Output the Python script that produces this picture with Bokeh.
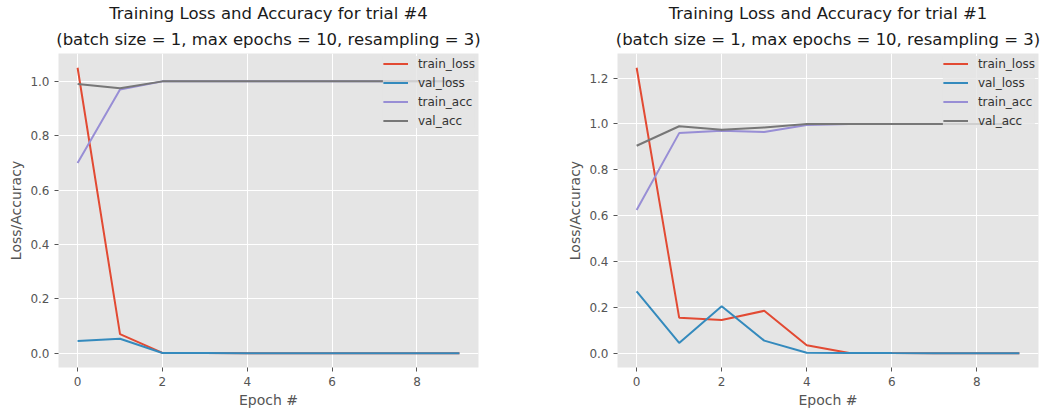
from bokeh.plotting import figure
from bokeh.layouts import row
from bokeh.models import FixedTicker, PrintfTickFormatter, Title, Range1d, Legend, LegendItem
from bokeh.embed import file_html
from bokeh.resources import INLINE

epochs = list(range(10))

# Trial #4
t4_train_loss = [1.05, 0.07, 0.001, 0.0005, 0.0003, 0.0002, 0.0002, 0.0001, 0.0001, 0.0001]
t4_val_loss = [0.045, 0.053, 0.001, 0.0005, 0.0003, 0.0002, 0.0002, 0.0001, 0.0001, 0.0001]
t4_train_acc = [0.70, 0.97, 1.0, 1.0, 1.0, 1.0, 1.0, 1.0, 1.0, 1.0]
t4_val_acc = [0.99, 0.975, 1.0, 1.0, 1.0, 1.0, 1.0, 1.0, 1.0, 1.0]

# Trial #1
t1_train_loss = [1.245, 0.155, 0.145, 0.185, 0.035, 0.001, 0.0005, 0.0003, 0.0002, 0.0001]
t1_val_loss = [0.27, 0.045, 0.205, 0.055, 0.002, 0.001, 0.0005, 0.0003, 0.0002, 0.0001]
t1_train_acc = [0.625, 0.96, 0.97, 0.965, 0.995, 1.0, 1.0, 1.0, 1.0, 1.0]
t1_val_acc = [0.905, 0.99, 0.975, 0.985, 1.0, 1.0, 1.0, 1.0, 1.0, 1.0]

series_names = ["train_loss", "val_loss", "train_acc", "val_acc"]
colors = ["#E24A33", "#348ABD", "#988ED5", "#777777"]

x_ticks = [0, 2, 4, 6, 8]
t4_y_ticks = [0.0, 0.2, 0.4, 0.6, 0.8, 1.0]
t1_y_ticks = [0.0, 0.2, 0.4, 0.6, 0.8, 1.0, 1.2]

title_line2 = "(batch size = 1, max epochs = 10, resampling = 3)"


def make_plot(trial, series, yticks, ymax, border_left, border_right):
    p = figure(width=530, height=411, output_backend="svg", toolbar_location=None,
               min_border_left=border_left, min_border_right=border_right,
               min_border_top=53, min_border_bottom=44,
               x_range=Range1d(-0.45, 9.45),
               y_range=Range1d(-0.05 * ymax, 1.05 * ymax))
    p.title = None
    p.add_layout(Title(text=title_line2, align="center", text_font="DejaVu Sans",
                       text_font_size="16.5px", text_font_style="normal",
                       text_color="#1a1a1a", standoff=10, text_line_height=0.8), "above")
    p.add_layout(Title(text="Training Loss and Accuracy for trial #%d" % trial, align="center",
                       text_font="DejaVu Sans", text_font_size="16.5px",
                       text_font_style="normal", text_color="#1a1a1a", standoff=0,
                       text_line_height=0.8), "above")
    p.background_fill_color = "#E5E5E5"
    p.border_fill_color = "white"
    p.outline_line_color = None

    for ax in (p.xaxis, p.yaxis):
        ax.axis_line_color = None
        ax.major_tick_line_color = "#555555"
        ax.major_tick_out = 4
        ax.major_tick_in = 0
        ax.minor_tick_line_color = None
        ax.major_label_text_color = "#555555"
        ax.major_label_text_font = "DejaVu Sans"
        ax.major_label_text_font_size = "12px"
        ax.axis_label_text_color = "#555555"
        ax.axis_label_text_font = "DejaVu Sans"
        ax.axis_label_text_font_size = "14px"
        ax.axis_label_text_font_style = "normal"

    p.xaxis.ticker = FixedTicker(ticks=x_ticks)
    p.yaxis.ticker = FixedTicker(ticks=yticks)
    p.yaxis.formatter = PrintfTickFormatter(format="%.1f")
    p.xaxis.axis_label = "Epoch #"
    p.yaxis.axis_label = "Loss/Accuracy"
    p.xaxis.axis_label_standoff = 3
    p.yaxis.axis_label_standoff = 3

    p.grid.grid_line_color = "white"
    p.grid.grid_line_width = 1

    items = []
    for name, vals, c in zip(series_names, series, colors):
        r = p.line(epochs, vals, line_color=c, line_width=2)
        items.append(LegendItem(label=name, renderers=[r]))
    leg = Legend(items=items, location="top_right")
    leg.background_fill_color = "#E5E5E5"
    leg.background_fill_alpha = 0.8
    leg.border_line_color = None
    leg.label_text_font = "DejaVu Sans"
    leg.label_text_font_size = "12px"
    leg.label_text_color = "#333333"
    leg.glyph_width = 25
    leg.glyph_height = 15
    leg.label_height = 15
    leg.spacing = 4
    leg.padding = 4
    leg.margin = 3
    leg.label_standoff = 10
    p.add_layout(leg, "center")
    return p


p1 = make_plot(4, [t4_train_loss, t4_val_loss, t4_train_acc, t4_val_acc], t4_y_ticks, 1.05, 58, 52)
p2 = make_plot(1, [t1_train_loss, t1_val_loss, t1_train_acc, t1_val_acc], t1_y_ticks, 1.245, 87, 22)

layout = row(p1, p2)
open("out.html", "w").write(file_html(layout, INLINE))
